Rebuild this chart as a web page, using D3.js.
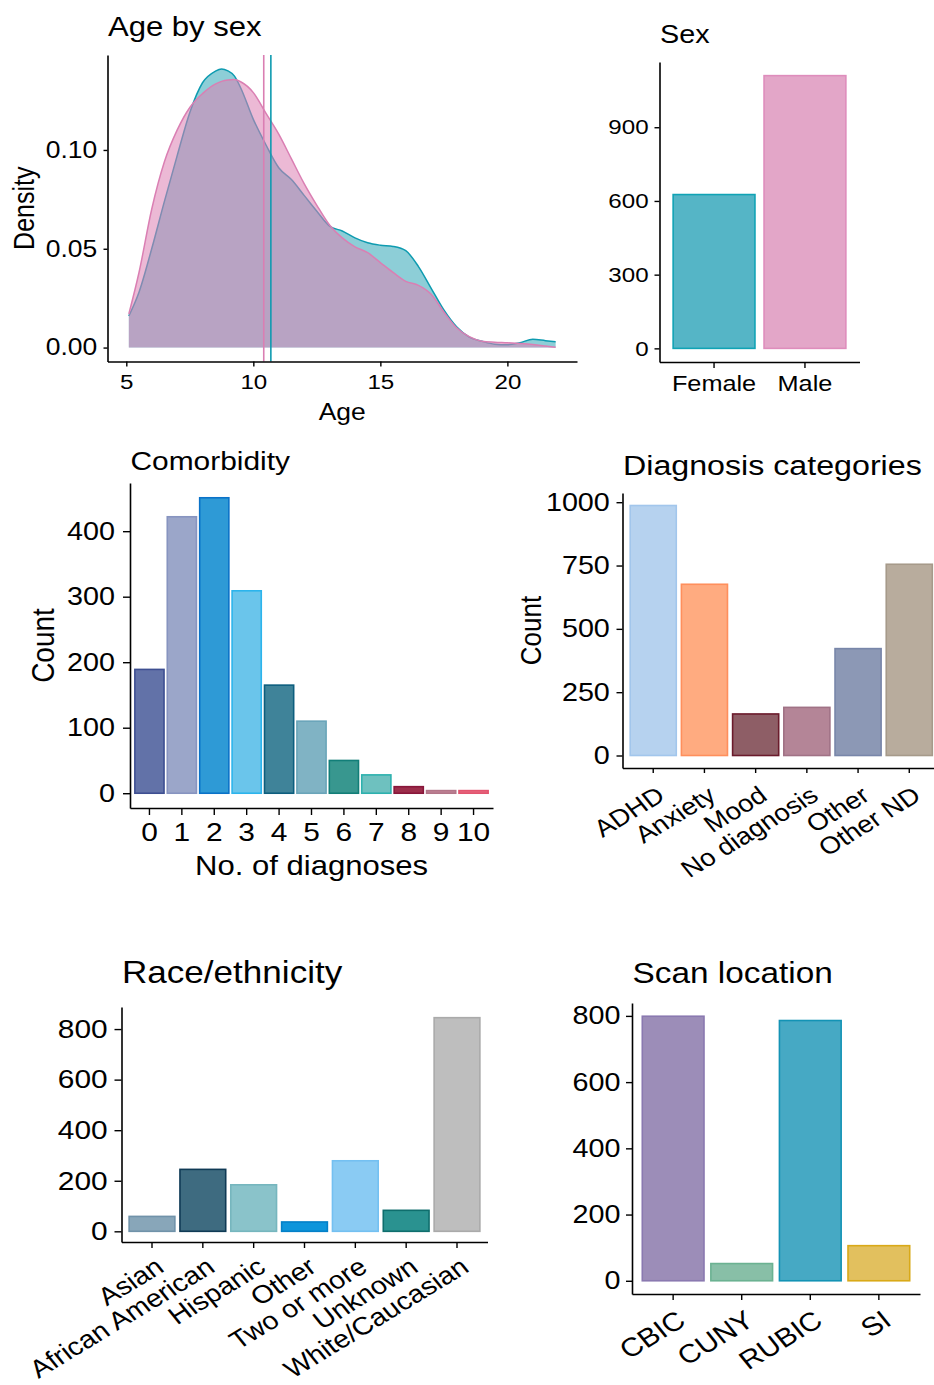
<!DOCTYPE html>
<meta charset="utf-8">
<script src="https://d3js.org/d3.v7.min.js"></script>
<style>body{margin:0;background:#fff}</style>
<body>
<script>

// ---------- data ----------
var ageGrid = [5.1,5.5,6,6.5,7,7.5,8,8.5,8.75,9,9.25,9.5,10,10.5,11,11.5,12,12.5,13,13.5,14,14.5,15,15.5,16,16.5,17,17.5,18,18.5,19,19.5,20,20.5,21,21.5,21.9];
var femaleDensity = [0.016,0.028,0.050,0.074,0.097,0.119,0.134,0.1398,0.141,0.1400,0.1375,0.1315,0.1155,0.1025,0.091,0.085,0.077,0.069,0.0615,0.059,0.0555,0.053,0.0518,0.0512,0.049,0.041,0.030,0.019,0.0105,0.0053,0.0032,0.0017,0.0014,0.0025,0.0042,0.0035,0.003];
var maleDensity = [0.017,0.038,0.070,0.094,0.110,0.1215,0.1285,0.1333,0.1347,0.1354,0.1356,0.1345,0.129,0.1185,0.108,0.0955,0.083,0.072,0.062,0.0555,0.051,0.048,0.043,0.038,0.0335,0.0315,0.027,0.018,0.010,0.0055,0.0032,0.0027,0.0024,0.002,0.0015,0.0008,0.0002];
var meanAge = {female: 10.69, male: 10.41};
var ageTicks = [5, 10, 15, 20];
var densityTicks = [0, 0.05, 0.10];

var sexCats = ["Female", "Male"];
var sexCounts = [626, 1110];
var sexTicks = [0, 300, 600, 900];

var comorbCats = ["0","1","2","3","4","5","6","7","8","9","10"];
var comorbCounts = [189, 422, 451, 309, 165, 110, 50, 28, 10, 4, 4];
var comorbTicks = [0, 100, 200, 300, 400];

var diagCats = ["ADHD", "Anxiety", "Mood", "No diagnosis", "Other", "Other ND"];
var diagCounts = [987, 676, 164, 190, 422, 755];
var diagTicks = [0, 250, 500, 750, 1000];

var raceCats = ["Asian", "African American", "Hispanic", "Other", "Two or more", "Unknown", "White/Caucasian"];
var raceCounts = [59, 245, 184, 37, 279, 83, 845];
var raceTicks = [0, 200, 400, 600, 800];

var scanCats = ["CBIC", "CUNY", "RUBIC", "SI"];
var scanCounts = [799, 52, 786, 106];
var scanTicks = [0, 200, 400, 600, 800];

// ---------- colours ----------
var teal = "#0E9BB0", pink = "#DA7FB3";
var tealFill = "#1B9EAF", pinkFill = "#DC7FB2";
var sexFill = ["#55B5C6", "#E3A6C8"], sexStroke = ["#10A3B5", "#DE8DBC"];
var comorbFill = ["#6272A8","#9BA6C9","#2E9AD6","#6AC5EB","#3F8399","#80B3C4","#38978F","#6EC1BF","#9C2D4A","#C08497","#E8677F"];
var comorbStroke = ["#3E4F91","#8794C0","#0A72C8","#2CB4EC","#0D5E7E","#6AA5B9","#127E78","#2DB1AE","#88163A","#B27588","#E2546F"];
var diagFill = ["#B6D2EF","#FFAB80","#8E5E66","#B48597","#8C98B5","#B8AC9D"];
var diagStroke = ["#A2C6EC","#FF8F5C","#6B1B2C","#A07285","#7886A9","#A69A8A"];
var raceFill = ["#88A6B9","#3E6B80","#8AC3CA","#0E95DB","#8ACBF3","#2A9290","#BEBEBE"];
var raceStroke = ["#7092A9","#0F3A55","#76B6BE","#0480C8","#74C0F1","#0F6E6D","#AAAAAA"];
var scanFill = ["#9C8DB8","#88BFA7","#46A9C4","#E2C05E"];
var scanStroke = ["#8A79B0","#6BB292","#1393B5","#D9A918"];

// the source figure is stretched sideways, so glyphs get a horizontal scale
var SX = 1.15;
var FONT = "'Liberation Sans', Arial, Helvetica, sans-serif";

var svg = d3.select("body").append("svg")
    .attr("width", 934)
    .attr("height", 1385)
    .style("font-family", FONT);

function addText(str, x, y, size, anchor, rot) {
  return svg.append("text")
    .attr("transform", "translate(" + x + "," + y + ") scale(" + SX + ",1)" + (rot ? " rotate(" + rot + ")" : ""))
    .attr("font-size", size)
    .attr("text-anchor", anchor || "start")
    .attr("fill", "#000")
    .text(str);
}

function styleAxis(g, size) {
  g.attr("font-family", null).attr("font-size", null);
  g.select(".domain").attr("stroke", "#000").attr("stroke-width", 1.6);
  g.selectAll(".tick line").attr("stroke", "#000").attr("stroke-width", 1.4);
  g.selectAll(".tick text")
    .attr("font-size", size)
    .attr("font-family", FONT)
    .attr("fill", "#000");
}

// ---------- panel 1: age by sex ----------
(function() {
  var box = {l: 107.5, r: 577, t: 55, b: 361.5};
  var ext = d3.extent(ageGrid), padX = (ext[1] - ext[0]) * 0.05;
  var dMax = d3.max(femaleDensity.concat(maleDensity));
  var x = d3.scaleLinear().domain([ext[0] - padX, ext[1] + padX]).range([box.l, box.r]);
  var y = d3.scaleLinear().domain([-0.05 * dMax, 1.05 * dMax]).range([box.b, box.t]);

  var area = d3.area().curve(d3.curveMonotoneX)
    .x(function(d) { return x(d[0]); }).y0(y(0)).y1(function(d) { return y(d[1]); });
  var line = d3.line().curve(d3.curveMonotoneX)
    .x(function(d) { return x(d[0]); }).y(function(d) { return y(d[1]); });

  var series = [
    {vals: femaleDensity, fill: tealFill, op: 0.5, stroke: teal},
    {vals: maleDensity, fill: pinkFill, op: 0.55, stroke: pink}
  ];
  series.forEach(function(s) {
    var pts = ageGrid.map(function(a, i) { return [a, s.vals[i]]; });
    svg.append("path").datum(pts).attr("d", area)
      .attr("fill", s.fill).attr("fill-opacity", s.op);
    svg.append("path").datum(pts).attr("d", line)
      .attr("fill", "none").attr("stroke", s.stroke).attr("stroke-width", 1.5);
  });

  [[meanAge.male, pink], [meanAge.female, teal]].forEach(function(m) {
    svg.append("line")
      .attr("x1", x(m[0])).attr("x2", x(m[0]))
      .attr("y1", box.t).attr("y2", box.b)
      .attr("stroke", m[1]).attr("stroke-width", 1.6);
  });

  var ya = svg.append("g").attr("transform", "translate(" + box.l + ",0)")
    .call(d3.axisLeft(y).tickValues(densityTicks).tickFormat(d3.format(".2f"))
      .tickSize(4).tickSizeOuter(0).tickPadding(5));
  styleAxis(ya, 23);
  ya.selectAll(".tick text").attr("transform", "scale(" + SX + ",1)");

  var xa = svg.append("g").attr("transform", "translate(0," + box.b + ")")
    .call(d3.axisBottom(x).tickValues(ageTicks).tickFormat(d3.format("d"))
      .tickSize(5).tickSizeOuter(0).tickPadding(8));
  styleAxis(xa, 21);
  xa.selectAll(".tick text").attr("transform", "scale(" + SX + ",1)");

  addText("Age by sex", 108, 36, 27);
  addText("Age", (box.l + box.r) / 2, 420, 23, "middle");
  addText("Density", 34, (box.t + box.b) / 2, 25, "middle", -90);
})();

// ---------- bar panels ----------
function barPanel(p) {
  var x = d3.scaleBand().domain(p.cats).range([p.l, p.r]).paddingInner(0.1).paddingOuter(0.15);
  var maxV = d3.max(p.vals);
  var y = d3.scaleLinear().domain([-0.05 * maxV, 1.05 * maxV]).range([p.b, p.t]);

  svg.append("g").selectAll("rect")
    .data(p.cats)
    .join("rect")
      .attr("x", function(d) { return x(d); })
      .attr("width", x.bandwidth())
      .attr("y", function(d, i) { return y(p.vals[i]); })
      .attr("height", function(d, i) { return y(0) - y(p.vals[i]); })
      .attr("fill", function(d, i) { return p.fill[i]; })
      .attr("stroke", function(d, i) { return p.stroke[i]; })
      .attr("stroke-width", 1.6);

  var ya = svg.append("g").attr("transform", "translate(" + p.l + ",0)")
    .call(d3.axisLeft(y).tickValues(p.ticks).tickFormat(d3.format("d"))
      .tickSize(p.tick).tickSizeOuter(0).tickPadding(p.pad));
  styleAxis(ya, p.yFont);
  ya.selectAll(".tick text").attr("transform", "scale(" + SX + ",1)");

  var xa = svg.append("g").attr("transform", "translate(0," + p.b + ")")
    .call(d3.axisBottom(x).tickSize(p.xTick).tickSizeOuter(0).tickPadding(p.xPad));
  styleAxis(xa, p.xFont);
  if (p.rot) {
    xa.selectAll(".tick text")
      .attr("x", 0).attr("y", 0).attr("dy", "0.71em")
      .attr("text-anchor", "end")
      .attr("transform", "translate(2," + p.rotDy + ") scale(" + SX + ",1) rotate(" + p.rot + ")");
  } else {
    xa.selectAll(".tick text").attr("transform", "scale(" + SX + ",1)");
  }

  addText(p.title, p.l + 0.5, p.titleY, p.titleSize);
}

barPanel({cats: sexCats, vals: sexCounts, fill: sexFill, stroke: sexStroke, ticks: sexTicks,
  l: 659.5, r: 859.5, t: 62, b: 362, tick: 5, pad: 4.5, yFont: 21,
  xTick: 6, xPad: 7, xFont: 22, title: "Sex", titleY: 43, titleSize: 25});

barPanel({cats: comorbCats, vals: comorbCounts, fill: comorbFill, stroke: comorbStroke, ticks: comorbTicks,
  l: 130, r: 493, t: 483, b: 808, tick: 7, pad: 6, yFont: 25,
  xTick: 7, xPad: 8, xFont: 26, title: "Comorbidity", titleY: 470, titleSize: 26});
addText("No. of diagnoses", 311.5, 875, 27, "middle");
addText("Count", 54, 645.5, 28, "middle", -90);

barPanel({cats: diagCats, vals: diagCounts, fill: diagFill, stroke: diagStroke, ticks: diagTicks,
  l: 622.5, r: 940, t: 493, b: 768, tick: 6, pad: 5, yFont: 25,
  xTick: 5, xPad: 4, xFont: 24, rot: -35, rotDy: 17,
  title: "Diagnosis categories", titleY: 475, titleSize: 28});
addText("Count", 541, 630.5, 26, "middle", -90);

barPanel({cats: raceCats, vals: raceCounts, fill: raceFill, stroke: raceStroke, ticks: raceTicks,
  l: 121.5, r: 487.5, t: 1007, b: 1242, tick: 7, pad: 5, yFont: 26,
  xTick: 6, xPad: 4, xFont: 25, rot: -35, rotDy: 14,
  title: "Race/ethnicity", titleY: 983, titleSize: 30.5});

barPanel({cats: scanCats, vals: scanCounts, fill: scanFill, stroke: scanStroke, ticks: scanTicks,
  l: 632, r: 920, t: 1003, b: 1294, tick: 6, pad: 4, yFont: 25,
  xTick: 6, xPad: 4, xFont: 26, rot: -35, rotDy: 15,
  title: "Scan location", titleY: 983, titleSize: 29});

</script>
